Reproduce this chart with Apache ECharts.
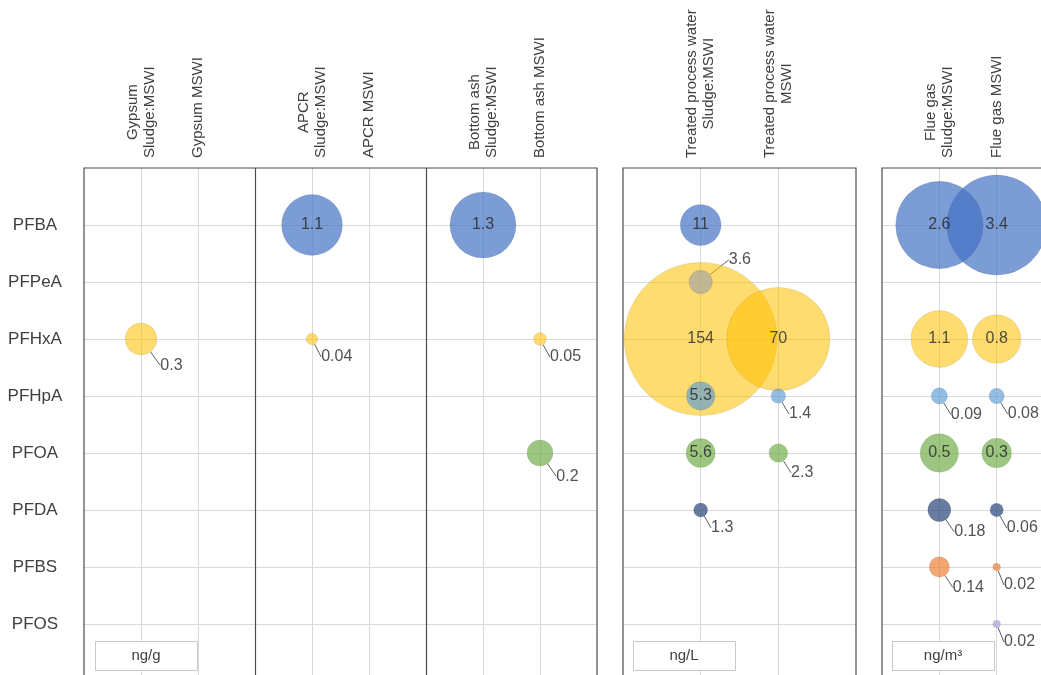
<!DOCTYPE html>
<html><head><meta charset="utf-8">
<script src="https://cdn.jsdelivr.net/npm/echarts@6/dist/echarts.min.js"></script>
<style>html,body{margin:0;padding:0;background:#fff}#c{width:1041px;height:675px}</style>
</head><body><div id="c"></div>
<script>
// ---- data ----
const compounds = ['PFBA','PFPeA','PFHxA','PFHpA','PFOA','PFDA','PFBS','PFOS'];
const sampleLabels = ['Gypsum\nSludge:MSWI','Gypsum MSWI','APCR\nSludge:MSWI','APCR MSWI','Bottom ash\nSludge:MSWI','Bottom ash MSWI','Treated process water\nSludge:MSWI','Treated process water\nMSWI','Flue gas\nSludge:MSWI','Flue gas MSWI'];
const units = ['ng/g','ng/L','ng/m³'];
// values in compound order (null = not reported)
const gypsumSludge    = [null, null, 0.3,  null, null, null, null, null];
const gypsumMSWI      = [null, null, null, null, null, null, null, null];
const apcrSludge      = [1.1,  null, 0.04, null, null, null, null, null];
const apcrMSWI        = [null, null, null, null, null, null, null, null];
const bottomAshSludge = [1.3,  null, null, null, null, null, null, null];
const bottomAshMSWI   = [null, null, 0.05, null, 0.2,  null, null, null];
const waterSludge     = [11,   3.6,  154,  5.3,  5.6,  1.3,  null, null];
const waterMSWI       = [null, null, 70,   1.4,  2.3,  null, null, null];
const flueGasSludge   = [2.6,  null, 1.1,  0.09, 0.5,  0.18, 0.14, null];
const flueGasMSWI     = [3.4,  null, 0.8,  0.08, 0.3,  0.06, 0.02, 0.02];

// ---- styles / layout ----
const sampleValues = [gypsumSludge, gypsumMSWI, apcrSludge, apcrMSWI, bottomAshSludge, bottomAshMSWI, waterSludge, waterMSWI, flueGasSludge, flueGasMSWI];
const compoundColors = ['#4472C4','#A5A5A5','#FFC000','#5B9BD5','#70AD47','#264478','#ED7D31','#A9A3D1'];
const compoundOpacity = [0.88, 0.85, 0.7, 0.82, 0.85, 0.88, 0.85, 0.85];
const rgba = (hex, a) => 'rgba(' + [1,3,5].map(i => parseInt(hex.substr(i, 2), 16)).join(',') + ',' + a + ')';
const panels = [
  {samples:[0,1,2,3,4,5], cols:[1,2,4,5,7,8], xMax:9, left:84, width:513, sizeK:58, insideMin:40, dividers:[3,6], unitLeft:95},
  {samples:[6,7], cols:[1,2], xMax:3, left:623, width:233, sizeK:12.33, insideMin:26, dividers:[], unitLeft:633},
  {samples:[8,9], cols:[1,2], xMax:3, left:882, width:172, sizeK:54.2, insideMin:26, dividers:[], unitLeft:892}
];
const labelAbove = ['6-1']; // sample-compound whose label sits above right
const GRID_TOP = 168, GRID_H = 513;
const textColor = '#404040';
const borderCol = '#4d4d4d';

const grids = [], xAxes = [], yAxes = [], series = [], graphics = [];
panels.forEach((p, pi) => {
  grids.push({left: p.left, top: GRID_TOP, width: p.width, height: GRID_H, show: true,
    outerBoundsMode: 'none', containLabel: false, z: 5,
    borderColor: borderCol, borderWidth: 1.2, backgroundColor: 'transparent'});
  const colLabel = {};
  p.samples.forEach((s, j) => { colLabel[p.cols[j]] = sampleLabels[s]; });
  xAxes.push({type: 'value', gridIndex: pi, position: 'top', min: 0, max: p.xMax, interval: 1,
    axisLine: {show: false}, axisTick: {show: false},
    splitLine: {show: true, showMinLine: false, showMaxLine: false, lineStyle: {color: '#d9d9d9', width: 1}},
    axisLabel: {rotate: 90, margin: 10, showMinLabel: true, showMaxLabel: true,
      formatter: v => { const t = colLabel[v]; if (!t) return ''; return t.split('\n').map(l => '{c|' + l + '}').join('\n'); },
      rich: {c: {align: 'center', fontSize: 15, lineHeight: 17, color: textColor, fontFamily: 'Liberation Sans, Arial, sans-serif'}}}
  });
  yAxes.push({type: 'value', gridIndex: pi, inverse: true, min: 0, max: 9, interval: 1,
    axisLine: {show: false}, axisTick: {show: false},
    splitLine: {show: true, showMinLine: false, showMaxLine: false, lineStyle: {color: '#d9d9d9', width: 1}},
    axisLabel: {show: pi === 0, align: 'center', margin: 49, fontSize: 17, color: textColor,
      fontFamily: 'Liberation Sans, Arial, sans-serif',
      formatter: v => compounds[v - 1] || ''}
  });
  const items = [];
  p.samples.forEach((s, j) => {
    sampleValues[s].forEach((v, ci) => {
      if (v == null) return;
      const size = p.sizeK * Math.sqrt(v);
      const place = size >= p.insideMin ? 'in' : (labelAbove.includes(s + '-' + ci) ? 'tr' : 'br');
      items.push({v, place, item: {
        value: [p.cols[j], ci + 1, v], symbolSize: size,
        itemStyle: {color: rgba(compoundColors[ci], compoundOpacity[ci])},
        label: {position: place === 'in' ? 'inside' : 'right'},
        labelLine: {show: place !== 'in'}
      }});
    });
  });
  items.sort((a, b) => b.v - a.v);
  series.push({
    type: 'scatter', xAxisIndex: pi, yAxisIndex: pi, symbol: 'circle',
    data: items.map(d => d.item),
    itemStyle: {borderColor: 'rgba(0,0,0,0.13)', borderWidth: 0.8},
    label: {show: true, formatter: q => String(q.value[2]), fontSize: 16, color: '#262626',
      fontFamily: 'Liberation Sans, Arial, sans-serif'},
    labelLine: {show: true, lineStyle: {color: '#5f5f5f', width: 1}, length2: 0},
    labelLayout: q => {
      const it = items[q.dataIndex];
      if (!it || it.place === 'in') return {};
      const r = q.rect.width / 2, cx = q.rect.x + r, cy = q.rect.y + q.rect.height / 2;
      if (it.place === 'tr') return {x: cx + r + 16, y: cy - r - 10, align: 'left', verticalAlign: 'middle'};
      return {x: cx + r + 3, y: cy + Math.max(r + 10, 18), align: 'left', verticalAlign: 'middle'};
    },
    markLine: p.dividers.length ? {silent: true, symbol: 'none', label: {show: false},
      lineStyle: {color: borderCol, width: 1.2, type: 'solid', opacity: 1},
      data: p.dividers.map(d => ({xAxis: d}))} : undefined,
    z: 3
  });
  graphics.push({type: 'rect', left: p.unitLeft, top: 641, z: 10,
    shape: {width: 102, height: 29}, style: {fill: '#fff', stroke: '#c8c8c8', lineWidth: 1}});
  graphics.push({type: 'text', x: p.unitLeft + 51, y: 656, z: 11,
    style: {text: units[pi], fontSize: 15, fill: textColor, align: 'center', verticalAlign: 'middle',
      fontFamily: 'Liberation Sans, Arial, sans-serif'}});
});

const chart = echarts.init(document.getElementById('c'), null, {renderer: 'canvas'});
chart.setOption({
  animation: false,
  backgroundColor: '#fff',
  grid: grids, xAxis: xAxes, yAxis: yAxes, series: series, graphic: graphics
});
</script>
</body></html>
